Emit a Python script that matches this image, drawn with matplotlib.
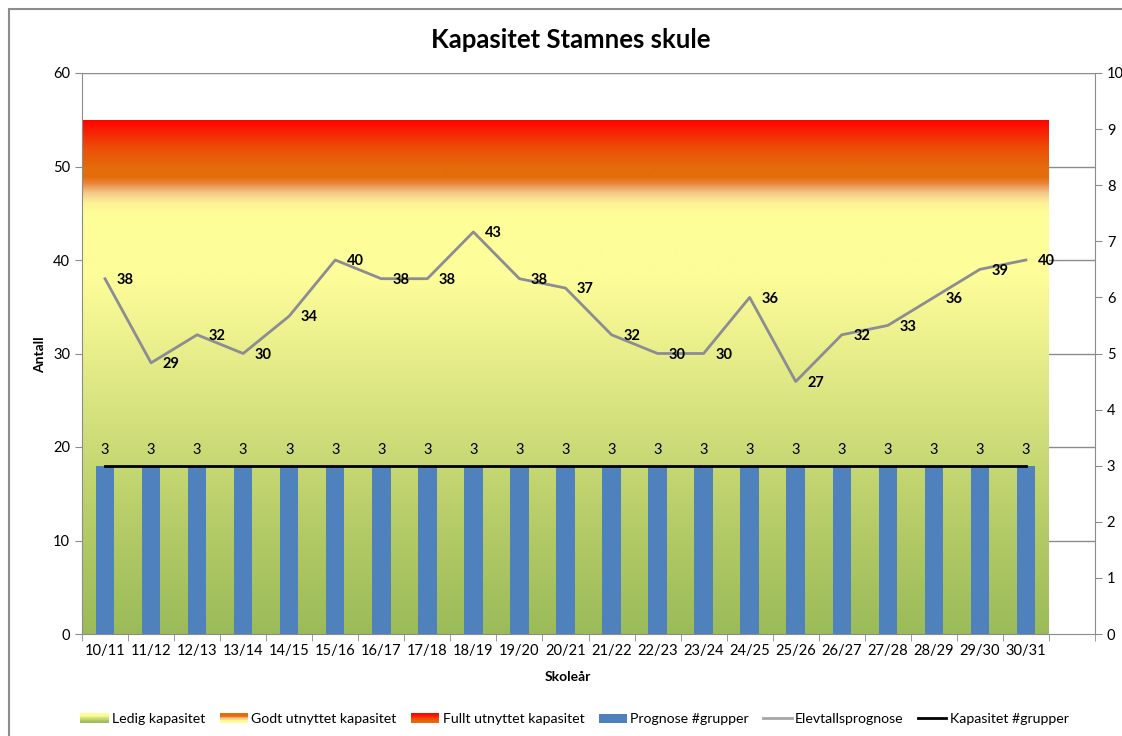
import matplotlib
matplotlib.use("Agg")
import matplotlib.pyplot as plt
import numpy as np
from matplotlib.colors import LinearSegmentedColormap
from matplotlib.legend_handler import HandlerBase
from matplotlib.patches import Patch, Rectangle
from matplotlib.lines import Line2D

plt.rcParams['font.family'] = ['Lato', 'DejaVu Sans']

years = ["10/11", "11/12", "12/13", "13/14", "14/15", "15/16", "16/17", "17/18",
         "18/19", "19/20", "20/21", "21/22", "22/23", "23/24", "24/25", "25/26",
         "26/27", "27/28", "28/29", "29/30", "30/31"]
elevtall = [38, 29, 32, 30, 34, 40, 38, 38, 43, 38, 37, 32, 30, 30, 36, 27, 32, 33, 36, 39, 40]
grupper = [3] * 21
kapasitet_grupper = [3] * 21
# stacked capacity bands (pupils)
ledig = [45] * 21
godt = [5] * 21
fullt = [5] * 21

# gradient stops (bottom -> top) for each band
ledig_cols = [(0.0, "#9BBB59"), (0.25, "#B4CB67"), (0.5, "#D2E07C"), (0.72, "#EEF28F"),
              (0.85, "#FDFD99"), (1.0, "#FFFF99")]
godt_cols = [(0.0, "#FFFF99"), (0.25, "#FDF196"), (0.45, "#F4C98A"), (0.65, "#E8853A"),
             (0.78, "#E46C0A"), (1.0, "#E46C0A")]
fullt_cols = [(0.0, "#E46C0A"), (0.4, "#EC4F08"), (1.0, "#FF0000")]


class GradientHandler(HandlerBase):
    def __init__(self, stops):
        super().__init__()
        self.cmap = LinearSegmentedColormap.from_list("g", stops)

    def create_artists(self, legend, orig_handle, xdescent, ydescent, width, height, fontsize, trans):
        n = 12
        out = []
        for i in range(n):
            r = Rectangle((-xdescent, -ydescent + i * height / n), width, height / n + 0.3,
                          facecolor=self.cmap(i / (n - 1)), edgecolor="none", transform=trans)
            out.append(r)
        return out


fig = plt.figure(figsize=(11.22, 7.36), dpi=100)
ax = fig.add_axes([82 / 1122, 102 / 736, (1095 - 82) / 1122, (634 - 73) / 736])

x = np.arange(len(years))
edges = np.arange(len(years) + 1) - 0.5
grid_col = "#8C8C8C"

# gridlines only show where the bands don't cover them
for v in range(10, 61, 10):
    x0 = -0.5 if v > 55 else edges[-1]
    ax.plot([x0, 21.5], [v, v], color=grid_col, lw=1.0, zorder=0)

# gradient-filled stacked areas
base = np.zeros(len(years))
grad = np.linspace(0, 1, 256).reshape(-1, 1)
for i, (vals, stops) in enumerate([(ledig, ledig_cols), (godt, godt_cols), (fullt, fullt_cols)]):
    top = base + np.array(vals)
    lo = base - (0.2 if i > 0 else 0)  # small overlap hides the seam
    poly = ax.fill_between(edges, np.r_[lo, lo[-1]], np.r_[top, top[-1]], step="post",
                           facecolor="none", edgecolor="none", zorder=1)
    cmap = LinearSegmentedColormap.from_list("g", stops)
    im = ax.imshow(grad, cmap=cmap, origin="lower", aspect="auto", zorder=1 + i * 0.01,
                   extent=(edges[0], edges[-1], lo.min(), top.max()), interpolation="bilinear")
    im.set_clip_path(poly.get_paths()[0], transform=ax.transData)
    base = top

ax.plot(x, elevtall, color="#8C8C94", lw=2.0, zorder=3)
for xi, v in zip(x, elevtall):
    ax.annotate(str(v), (xi, v), xytext=(14.4, -1), textcoords="offset points",
                ha="center", va="center", fontsize=10.5, fontweight="bold", zorder=4)

ax.set_xlim(-0.5, 21.5)
ax.set_ylim(0, 60)
ax.set_yticks(range(0, 61, 10))
ax.set_xticks(x)
ax.set_xticklabels(years)
ax.set_xticks(np.arange(22 + 1) - 0.5, minor=True)
ax.tick_params(axis="x", which="major", length=0, labelsize=10.5, pad=7)
ax.tick_params(axis="x", which="minor", length=5, color=grid_col, direction="out")
ax.tick_params(axis="y", length=5, color=grid_col, labelsize=10.5, direction="out")
for s in ["top", "right"]:
    ax.spines[s].set_visible(False)
for s in ["left", "bottom"]:
    ax.spines[s].set_color(grid_col)

ax2 = ax.twinx()
ax2.bar(x, grupper, width=0.4, color="#4F81BD", zorder=2)
ax2.plot(x, kapasitet_grupper, color="black", lw=2.0, zorder=3)
for xi, v in zip(x, grupper):
    ax2.annotate(str(v), (xi, v), xytext=(0, 11), textcoords="offset points",
                 ha="center", va="center", fontsize=10.5)
ax2.set_ylim(0, 10)
ax2.set_yticks(range(0, 11))
ax2.tick_params(axis="y", length=5, color=grid_col, labelsize=10.5, direction="out")
for s in ["top", "left", "bottom"]:
    ax2.spines[s].set_visible(False)
ax2.spines["right"].set_color(grid_col)

fig.text(0.509, 0.9457, "Kapasitet Stamnes skule", ha="center", va="center",
         fontsize=18.5, fontweight="bold")
fig.text(0.0357, 0.518, "Antall", rotation=90, ha="center", va="center",
         fontsize=10, fontweight="bold")
fig.text(0.506, 0.080, "Skoleår", ha="center", va="center", fontsize=10, fontweight="bold")

# chart border
fig.add_artist(Rectangle((9 / 1122, -0.05), 1.2, 1 - 9 / 736 + 0.05, transform=fig.transFigure,
                         fill=False, edgecolor=grid_col, lw=1.5))

h1, h2, h3 = Patch(), Patch(), Patch()
handles = [h1, h2, h3,
           Patch(facecolor="#4F81BD"),
           Line2D([], [], color="#A6A6A6", lw=2),
           Line2D([], [], color="black", lw=2)]
labels = ["Ledig kapasitet", "Godt utnyttet kapasitet", "Fullt utnyttet kapasitet",
          "Prognose #grupper", "Elevtallsprognose", "Kapasitet #grupper"]
fig.legend(handles, labels, loc="center", bbox_to_anchor=(0.512, 0.023), ncol=6,
           frameon=False, fontsize=10.2, handlelength=2.0, handleheight=0.6,
           handletextpad=0.25, columnspacing=1.0,
           handler_map={h1: GradientHandler(ledig_cols), h2: GradientHandler(godt_cols),
                        h3: GradientHandler(fullt_cols)})

fig.savefig("out.png", dpi=100)
